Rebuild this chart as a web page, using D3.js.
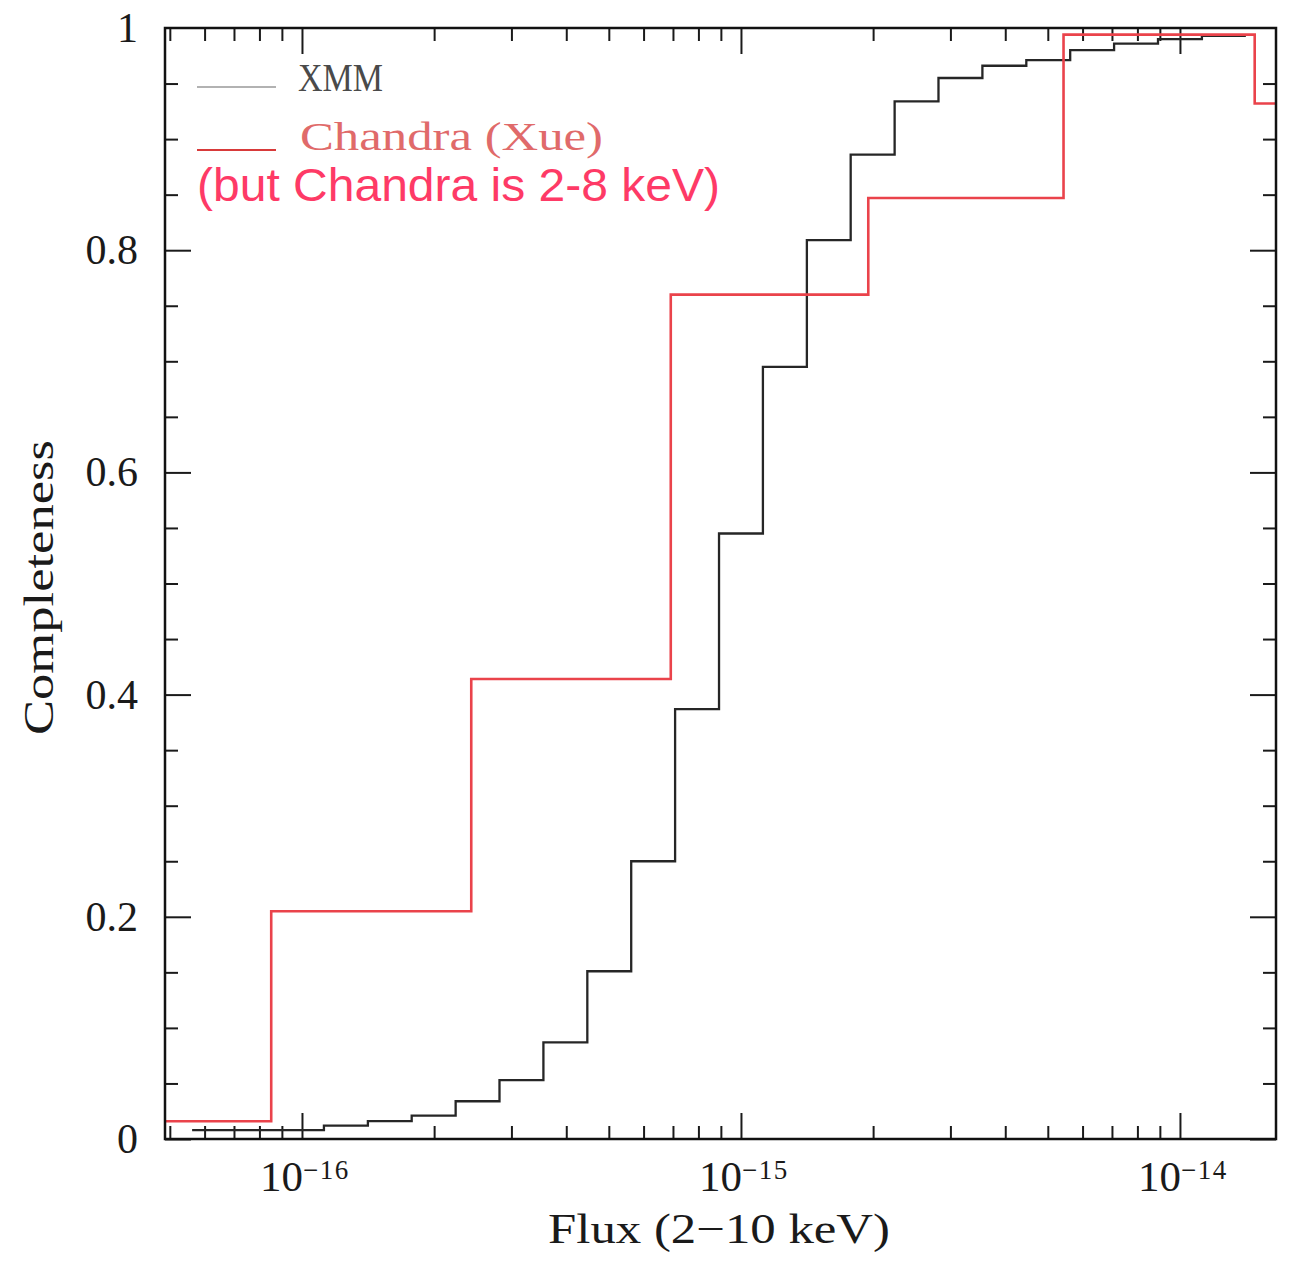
<!DOCTYPE html>
<html>
<head>
<meta charset="utf-8">
<script src="https://cdn.jsdelivr.net/npm/d3@7"></script>
<style>
  html, body { margin: 0; padding: 0; background: #ffffff; }
  svg { display: block; }
</style>
</head>
<body>
<svg id="chart" width="1293" height="1263"></svg>
<script>
// ---------------- DATA ----------------
// XMM completeness histogram: bin edges (flux, erg/s/cm2) and bin values
const xmmEdges = [5.62e-17, 1.122e-16, 1.413e-16, 1.778e-16, 2.239e-16, 2.818e-16, 3.548e-16,
  4.467e-16, 5.623e-16, 7.079e-16, 8.913e-16, 1.122e-15, 1.413e-15, 1.778e-15, 2.239e-15,
  2.818e-15, 3.548e-15, 4.467e-15, 5.623e-15, 7.079e-15, 8.913e-15, 1.122e-14, 1.413e-14];
const xmmValues = [0.008, 0.012, 0.016, 0.021, 0.034, 0.053, 0.087, 0.151, 0.250, 0.387,
  0.545, 0.695, 0.809, 0.886, 0.934, 0.955, 0.966, 0.971, 0.980, 0.986, 0.990, 0.993];

// Chandra (Xue) completeness histogram
const chandraEdges = [3.02e-17, 8.51e-17, 2.43e-16, 6.92e-16, 1.95e-15, 5.43e-15, 1.48e-14, 4.17e-14];
const chandraValues = [0.016, 0.205, 0.414, 0.760, 0.847, 0.994, 0.932];

// Axis ticks and labels
const xDomain = [4.875e-17, 1.655e-14];
const xMajorTicks = [1e-16, 1e-15, 1e-14];
const xMajorExponents = ["\u221216", "\u221215", "\u221214"];
const xMinorTicks = [5e-17, 6e-17, 7e-17, 8e-17, 9e-17,
  2e-16, 3e-16, 4e-16, 5e-16, 6e-16, 7e-16, 8e-16, 9e-16,
  2e-15, 3e-15, 4e-15, 5e-15, 6e-15, 7e-15, 8e-15, 9e-15];
const yMajorTicks = [0, 0.2, 0.4, 0.6, 0.8, 1];
const yMajorLabels = ["0", "0.2", "0.4", "0.6", "0.8", "1"];
const yMinorTicks = [0.05, 0.1, 0.15, 0.25, 0.3, 0.35, 0.45, 0.5, 0.55, 0.65, 0.7, 0.75, 0.85, 0.9, 0.95];

const seriesNames = ["XMM", "Chandra (Xue)"];
const xLabel = "Flux (2\u221210 keV)";
const yLabel = "Completeness";
const note = "(but Chandra is 2-8 keV)";

// ---------------- LAYOUT ----------------
const L = 165, R = 1276, T = 28, B = 1139;
const MAJ = 26, MIN = 13;
const serif = "'Liberation Serif', 'DejaVu Serif', serif";

const svg = d3.select("#chart");
const x = d3.scaleLog().domain(xDomain).range([L, R]);
const y = d3.scaleLinear().domain([0, 1]).range([B, T]);

svg.append("defs").append("clipPath").attr("id", "plotclip")
  .append("rect").attr("x", L).attr("y", T).attr("width", R - L).attr("height", B - T);

// ---------------- TICKS (mirrored on all sides, inward) ----------------
function styleAxis(g) {
  g.select(".domain").remove();
  g.selectAll(".tick line").attr("stroke", "#1a1a1a").attr("stroke-width", 2);
  g.selectAll(".tick text").remove();
}
// bottom (ticks pointing up)
svg.append("g").attr("transform", `translate(0,${B})`)
  .call(d3.axisTop(x).tickValues(xMajorTicks).tickSize(MAJ).tickFormat("")).call(styleAxis);
svg.append("g").attr("transform", `translate(0,${B})`)
  .call(d3.axisTop(x).tickValues(xMinorTicks).tickSize(MIN).tickFormat("")).call(styleAxis);
// top (ticks pointing down)
svg.append("g").attr("transform", `translate(0,${T})`)
  .call(d3.axisBottom(x).tickValues(xMajorTicks).tickSize(MAJ).tickFormat("")).call(styleAxis);
svg.append("g").attr("transform", `translate(0,${T})`)
  .call(d3.axisBottom(x).tickValues(xMinorTicks).tickSize(MIN).tickFormat("")).call(styleAxis);
// left (ticks pointing right)
svg.append("g").attr("transform", `translate(${L},0)`)
  .call(d3.axisRight(y).tickValues(yMajorTicks.filter(v => v < 1)).tickSize(MAJ).tickFormat("")).call(styleAxis);
svg.append("g").attr("transform", `translate(${L},0)`)
  .call(d3.axisRight(y).tickValues(yMinorTicks).tickSize(MIN).tickFormat("")).call(styleAxis);
// right (ticks pointing left)
svg.append("g").attr("transform", `translate(${R},0)`)
  .call(d3.axisLeft(y).tickValues(yMajorTicks.filter(v => v < 1)).tickSize(MAJ).tickFormat("")).call(styleAxis);
svg.append("g").attr("transform", `translate(${R},0)`)
  .call(d3.axisLeft(y).tickValues(yMinorTicks).tickSize(MIN).tickFormat("")).call(styleAxis);

// ---------------- STEP LINES ----------------
function stepPoints(edges, vals) {
  const pts = vals.map((v, i) => [edges[i], v]);
  pts.push([edges[edges.length - 1], vals[vals.length - 1]]);
  return pts;
}
const stepLine = d3.line().x(d => x(d[0])).y(d => y(d[1])).curve(d3.curveStepAfter);

const plot = svg.append("g").attr("clip-path", "url(#plotclip)");
plot.append("path")
  .datum(stepPoints(xmmEdges, xmmValues))
  .attr("d", stepLine)
  .attr("fill", "none").attr("stroke", "#262626").attr("stroke-width", 2.3)
  .attr("stroke-linejoin", "miter");
plot.append("path")
  .datum(stepPoints(chandraEdges, chandraValues))
  .attr("d", stepLine)
  .attr("fill", "none").attr("stroke", "#ea434b").attr("stroke-width", 2.6)
  .attr("stroke-linejoin", "miter");

// ---------------- FRAME ----------------
svg.append("rect").attr("x", L).attr("y", T).attr("width", R - L).attr("height", B - T)
  .attr("fill", "none").attr("stroke", "#111").attr("stroke-width", 2.5);

// ---------------- TICK LABELS ----------------
const xl = svg.append("g").attr("font-family", serif).attr("fill", "#1a1a1a");
xMajorTicks.forEach((t, i) => {
  const tx = xl.append("text").attr("x", x(t) + 3).attr("y", 1191)
    .attr("text-anchor", "middle").attr("font-size", 43);
  tx.append("tspan").text("10");
  tx.append("tspan").attr("dy", -12).attr("font-size", 27)
    .attr("letter-spacing", 1.5).text(xMajorExponents[i]);
});

const yl = svg.append("g").attr("font-family", serif).attr("fill", "#1a1a1a");
yMajorTicks.forEach((t, i) => {
  yl.append("text").attr("x", 138).attr("y", y(t) + 14)
    .attr("text-anchor", "end").attr("font-size", 42)
    .text(yMajorLabels[i]);
});

// ---------------- AXIS TITLES ----------------
svg.append("text").attr("x", 548).attr("y", 1243)
  .attr("font-family", serif).attr("font-size", 42).attr("fill", "#1a1a1a")
  .attr("textLength", 342).attr("lengthAdjust", "spacingAndGlyphs")
  .text(xLabel);
svg.append("text")
  .attr("transform", "translate(53,735) rotate(-90)")
  .attr("x", 0).attr("y", 0)
  .attr("font-family", serif).attr("font-size", 42).attr("fill", "#1a1a1a")
  .attr("textLength", 295).attr("lengthAdjust", "spacingAndGlyphs")
  .text(yLabel);

// ---------------- LEGEND ----------------
svg.append("line").attr("x1", 197).attr("x2", 276).attr("y1", 87).attr("y2", 87)
  .attr("stroke", "#999").attr("stroke-width", 1.6);
svg.append("text").attr("x", 298).attr("y", 91)
  .attr("font-family", serif).attr("font-size", 40).attr("fill", "#4a4a4a")
  .attr("textLength", 85).attr("lengthAdjust", "spacingAndGlyphs")
  .text(seriesNames[0]);
svg.append("line").attr("x1", 197).attr("x2", 276).attr("y1", 150).attr("y2", 150)
  .attr("stroke", "#d83a3a").attr("stroke-width", 2.2);
svg.append("text").attr("x", 300).attr("y", 150)
  .attr("font-family", serif).attr("font-size", 40).attr("fill", "#e06a6a")
  .attr("textLength", 303).attr("lengthAdjust", "spacingAndGlyphs")
  .text(seriesNames[1]);

// annotation
svg.append("text").attr("x", 197).attr("y", 201)
  .attr("font-family", "'Liberation Sans', Arial, sans-serif").attr("font-size", 47)
  .attr("fill", "#fe3a66")
  .attr("textLength", 523).attr("lengthAdjust", "spacingAndGlyphs")
  .text(note);
</script>
</body>
</html>
